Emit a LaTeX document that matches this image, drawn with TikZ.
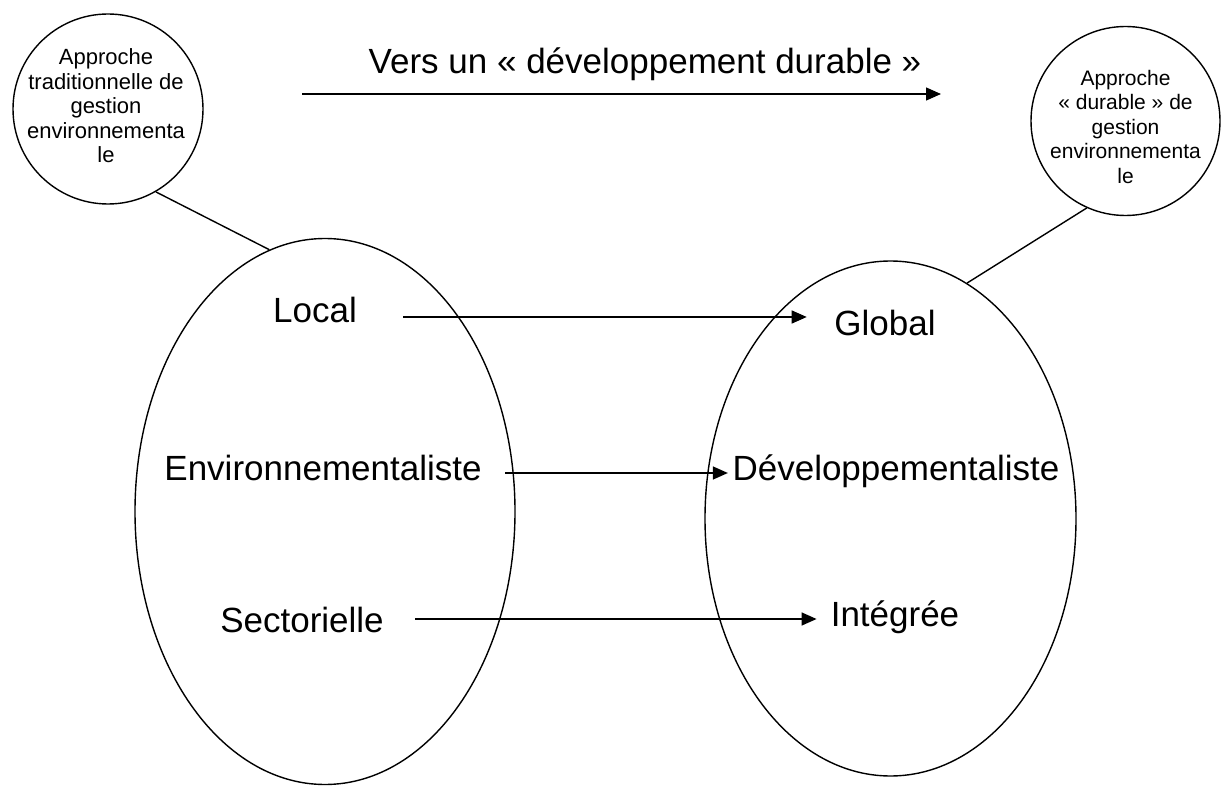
\documentclass[tikz,border=0pt]{standalone}
\usepackage{fontspec}
\setmainfont{Liberation Sans}
\usetikzlibrary{shapes.geometric,arrows.meta}
\begin{document}
\begin{tikzpicture}[x=1pt,y=-1pt,
  big/.style={font=\fontsize{35}{42}\selectfont, inner sep=0pt},
  small/.style={font=\fontsize{21}{24.5}\selectfont, align=center, inner sep=0pt},
  bubble/.style={circle, draw, line width=1.4pt, minimum size=190pt, inner sep=0pt},
  oval/.style={ellipse, draw, line width=1.4pt, inner sep=0pt},
  link/.style={line width=1.4pt},
  arr/.style={line width=1.4pt, -{Triangle[length=15pt,width=13pt]}}
]
\useasboundingbox (0,0) rectangle (1221,786);
% small circles
\node[bubble] (tl) at (108,109) {};
\node[bubble, minimum size=189pt] (tr) at (1125.5,121) {};
\node[small, font=\fontsize{22}{24.5}\selectfont] (tlt) at (106,106) {Approche\\traditionnelle de\\gestion\\environnementa\\le};
\node[small] (trt) at (1125.5,126.5) {Approche\\« durable » de\\gestion\\environnementa\\le};
% big ellipses
\node[oval, minimum width=380pt, minimum height=546pt] (le) at (325,511.5) {};
\node[oval, minimum width=371pt, minimum height=515pt] (re) at (890.5,518.5) {};
% texts
\node[big, anchor=base] (title) at (645,74) {Vers un « développement durable »};
\node[big, anchor=base] (local) at (315,323) {Local};
\node[big, anchor=base] (global) at (885,335) {Global};
\node[big, anchor=base] (env) at (323,480) {Environnementaliste};
\node[big, anchor=base] (dev) at (896,480) {Développementaliste};
\node[big, anchor=base] (sect) at (302,632) {Sectorielle};
\node[big, anchor=base] (integ) at (895,626) {Intégrée};
% title arrow
\coordinate (ts) at (302,94);
\coordinate (te) at (941,94);
\draw[arr] (ts) -- (te);
% links circles - ellipses
\draw[link] (tl.-60) -- (le.102);
\draw[link] (tr.246) -- (re.72);
% arrows
\draw[arr] ([xshift=46pt,yshift=6pt]local.base east) -- ([xshift=-27.5pt,yshift=18pt]global.base west);
\draw[arr] ([xshift=23.5pt,yshift=7pt]env.base east) -- ([xshift=-4.5pt,yshift=7pt]dev.base west);
\draw[arr] ([xshift=31.5pt,yshift=13pt]sect.base east) -- ([xshift=-14pt,yshift=7pt]integ.base west);
\end{tikzpicture}
\end{document}
